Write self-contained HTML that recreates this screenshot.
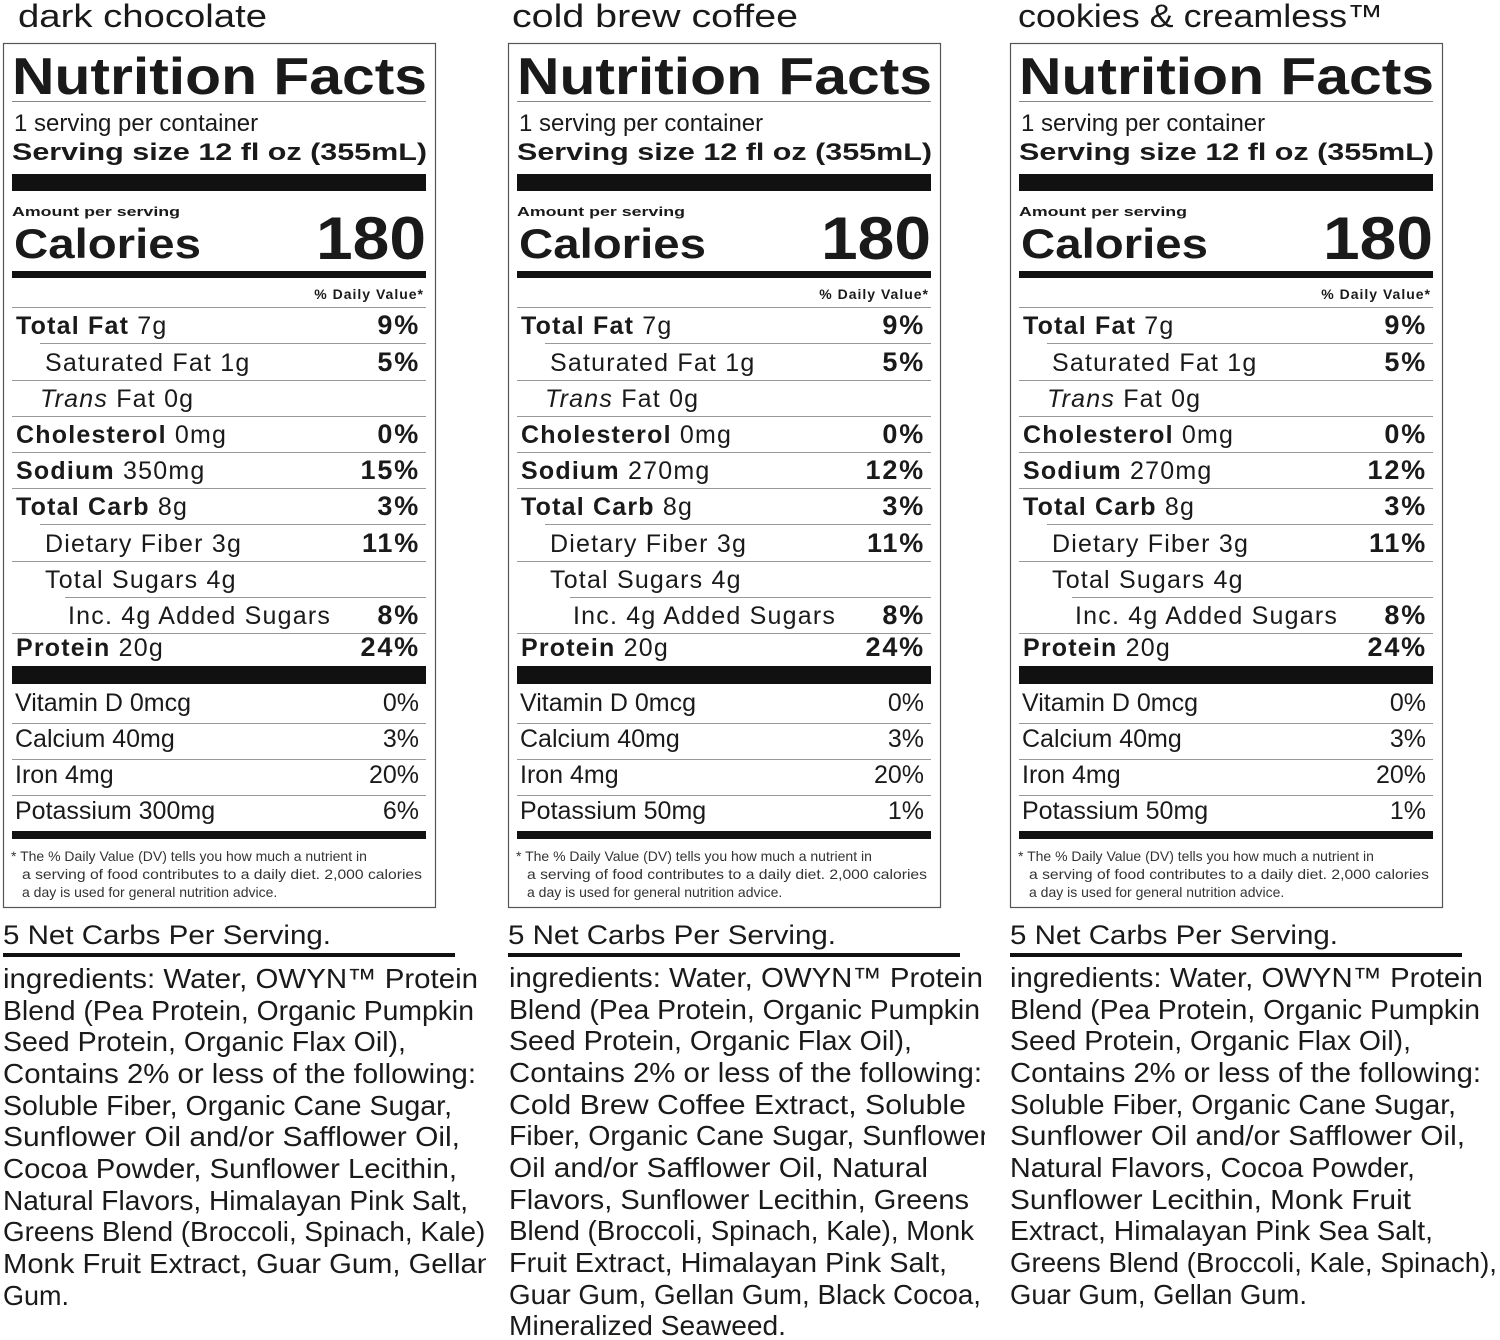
<!DOCTYPE html>
<html><head><meta charset="utf-8"><style>
html,body{margin:0;padding:0;background:#fff;}
svg{display:block;}
text{font-family:"Liberation Sans",Arial,sans-serif;fill:#1a1a1a;}
.b{font-weight:bold;}
.r{font-weight:normal;}
.row{font-size:25px;letter-spacing:1.2px;}
.pct{font-size:27px;font-weight:bold;letter-spacing:1.8px;}
.mn{font-size:25px;}
.ing{font-size:28px;}
.fn{font-size:14px;fill:#333;}
</style></head><body>
<svg width="1500" height="1340" viewBox="0 0 1500 1340" xmlns="http://www.w3.org/2000/svg">
<defs>
<clipPath id="c1"><rect x="0" y="960" width="486" height="380"/></clipPath>
<clipPath id="c2"><rect x="500" y="960" width="485" height="380"/></clipPath>
<g id="label">
 <rect x="3.5" y="43.5" width="432" height="864" fill="none" stroke="#555" stroke-width="1.2"/>
 <text x="12" y="94" class="b" font-size="52" textLength="415" lengthAdjust="spacingAndGlyphs">Nutrition Facts</text>
 <rect x="12" y="101" width="414" height="1" fill="#888"/>
 <text x="14" y="131" font-size="24">1 serving per container</text>
 <text x="12" y="160" class="b" font-size="24" textLength="415" lengthAdjust="spacingAndGlyphs">Serving size  12 fl oz (355mL)</text>
 <rect x="12" y="174" width="414" height="17" fill="#111"/>
 <text x="12" y="216" class="b" font-size="13" textLength="168" lengthAdjust="spacingAndGlyphs">Amount per serving</text>
 <text x="14" y="258" class="b" font-size="42" textLength="187" lengthAdjust="spacingAndGlyphs">Calories</text>
 <text x="316" y="259" class="b" font-size="60" textLength="110" lengthAdjust="spacingAndGlyphs">180</text>
 <rect x="12" y="271" width="414" height="7" fill="#111"/>
 <text x="424" y="299" class="b" font-size="14" text-anchor="end" letter-spacing="1">% Daily Value*</text>
 <rect x="12" y="307" width="414" height="1" fill="#999"/>
 <text x="16" y="334" class="row b">Total Fat <tspan class="r">7g</tspan></text>
 <text x="420" y="334" class="pct" text-anchor="end">9%</text>
 <rect x="40" y="343" width="386" height="1" fill="#999"/>
 <text x="45" y="371" class="row r">Saturated Fat 1g</text>
 <text x="420" y="371" class="pct" text-anchor="end">5%</text>
 <rect x="12" y="380" width="414" height="1" fill="#999"/>
 <text x="40" y="407" class="row r"><tspan font-style="italic">Trans</tspan> Fat 0g</text>
 <rect x="12" y="416" width="414" height="1" fill="#999"/>
 <text x="16" y="443" class="row b">Cholesterol <tspan class="r">0mg</tspan></text>
 <text x="420" y="443" class="pct" text-anchor="end">0%</text>
 <rect x="12" y="452" width="414" height="1" fill="#999"/>
 <rect x="12" y="488" width="414" height="1" fill="#999"/>
 <text x="16" y="515" class="row b">Total Carb <tspan class="r">8g</tspan></text>
 <text x="420" y="515" class="pct" text-anchor="end">3%</text>
 <rect x="40" y="524" width="386" height="1" fill="#999"/>
 <text x="45" y="552" class="row r">Dietary Fiber 3g</text>
 <text x="420" y="552" class="pct" text-anchor="end">11%</text>
 <rect x="12" y="561" width="414" height="1" fill="#999"/>
 <text x="45" y="588" class="row r">Total Sugars 4g</text>
 <rect x="65" y="597" width="361" height="1" fill="#999"/>
 <text x="68" y="624" class="row r">Inc. 4g Added Sugars</text>
 <text x="420" y="624" class="pct" text-anchor="end">8%</text>
 <rect x="12" y="633" width="414" height="1" fill="#999"/>
 <text x="16" y="656" class="row b">Protein <tspan class="r">20g</tspan></text>
 <text x="420" y="656" class="pct" text-anchor="end">24%</text>
 <rect x="12" y="666" width="414" height="18" fill="#111"/>
 <text x="15" y="711" class="mn">Vitamin D 0mcg</text>
 <text x="419" y="711" class="mn" text-anchor="end">0%</text>
 <rect x="12" y="723" width="414" height="1" fill="#999"/>
 <text x="15" y="747" class="mn">Calcium 40mg</text>
 <text x="419" y="747" class="mn" text-anchor="end">3%</text>
 <rect x="12" y="759" width="414" height="1" fill="#999"/>
 <text x="15" y="783" class="mn">Iron 4mg</text>
 <text x="419" y="783" class="mn" text-anchor="end">20%</text>
 <rect x="12" y="795" width="414" height="1" fill="#999"/>
 <rect x="12" y="831" width="414" height="8" fill="#111"/>
 <text x="11" y="861" class="fn">* The % Daily Value (DV) tells you how much a nutrient in</text>
 <text x="22" y="879" class="fn" textLength="400" lengthAdjust="spacingAndGlyphs">a serving of food contributes to a daily diet. 2,000 calories</text>
 <text x="22" y="897" class="fn">a day is used for general nutrition advice.</text>
 <text x="3" y="944" font-size="27" textLength="328" lengthAdjust="spacingAndGlyphs">5 Net Carbs Per Serving.</text>
 <rect x="3" y="953" width="452" height="4" fill="#111"/>
</g>
</defs>

<!-- Column 1 -->
<text x="18" y="27" font-size="32" textLength="249" lengthAdjust="spacingAndGlyphs">dark chocolate</text>
<use href="#label" x="0" y="0"/>
<text x="16" y="479" class="row b">Sodium <tspan class="r">350mg</tspan></text>
<text x="420" y="479" class="pct" text-anchor="end">15%</text>
<text x="15" y="819" class="mn">Potassium 300mg</text>
<text x="419" y="819" class="mn" text-anchor="end">6%</text>
<g clip-path="url(#c1)" class="ing">
<text x="3" y="988" class="ing" textLength="475" lengthAdjust="spacingAndGlyphs">ingredients: Water, OWYN™ Protein</text>
<text x="3" y="1020" class="ing" textLength="471" lengthAdjust="spacingAndGlyphs">Blend (Pea Protein, Organic Pumpkin</text>
<text x="3" y="1051" class="ing" textLength="403" lengthAdjust="spacingAndGlyphs">Seed Protein, Organic Flax Oil),</text>
<text x="3" y="1083" class="ing" textLength="473" lengthAdjust="spacingAndGlyphs">Contains 2% or less of the following:</text>
<text x="3" y="1115" class="ing" textLength="449" lengthAdjust="spacingAndGlyphs">Soluble Fiber, Organic Cane Sugar,</text>
<text x="3" y="1146" class="ing" textLength="457" lengthAdjust="spacingAndGlyphs">Sunflower Oil and/or Safflower Oil,</text>
<text x="3" y="1178" class="ing" textLength="454" lengthAdjust="spacingAndGlyphs">Cocoa Powder, Sunflower Lecithin,</text>
<text x="3" y="1210" class="ing" textLength="465" lengthAdjust="spacingAndGlyphs">Natural Flavors, Himalayan Pink Salt,</text>
<text x="3" y="1241" class="ing" textLength="490" lengthAdjust="spacingAndGlyphs">Greens Blend (Broccoli, Spinach, Kale),</text>
<text x="3" y="1273" class="ing" textLength="490" lengthAdjust="spacingAndGlyphs">Monk Fruit Extract, Guar Gum, Gellan</text>
<text x="3" y="1305" class="ing" textLength="66" lengthAdjust="spacingAndGlyphs">Gum.</text>
</g>

<!-- Column 2 -->
<text x="512" y="27" font-size="32" textLength="286" lengthAdjust="spacingAndGlyphs">cold brew coffee</text>
<use href="#label" x="505" y="0"/>
<g transform="translate(505,0)">
<text x="16" y="479" class="row b">Sodium <tspan class="r">270mg</tspan></text>
<text x="420" y="479" class="pct" text-anchor="end">12%</text>
<text x="15" y="819" class="mn">Potassium 50mg</text>
<text x="419" y="819" class="mn" text-anchor="end">1%</text>
</g>
<g clip-path="url(#c2)">
<text x="509" y="987" class="ing" textLength="474" lengthAdjust="spacingAndGlyphs">ingredients: Water, OWYN™ Protein</text>
<text x="509" y="1019" class="ing" textLength="471" lengthAdjust="spacingAndGlyphs">Blend (Pea Protein, Organic Pumpkin</text>
<text x="509" y="1050" class="ing" textLength="403" lengthAdjust="spacingAndGlyphs">Seed Protein, Organic Flax Oil),</text>
<text x="509" y="1082" class="ing" textLength="473" lengthAdjust="spacingAndGlyphs">Contains 2% or less of the following:</text>
<text x="509" y="1114" class="ing" textLength="457" lengthAdjust="spacingAndGlyphs">Cold Brew Coffee Extract, Soluble</text>
<text x="509" y="1145" class="ing" textLength="480" lengthAdjust="spacingAndGlyphs">Fiber, Organic Cane Sugar, Sunflower</text>
<text x="509" y="1177" class="ing" textLength="419" lengthAdjust="spacingAndGlyphs">Oil and/or Safflower Oil, Natural</text>
<text x="509" y="1209" class="ing" textLength="460" lengthAdjust="spacingAndGlyphs">Flavors, Sunflower Lecithin, Greens</text>
<text x="509" y="1240" class="ing" textLength="465" lengthAdjust="spacingAndGlyphs">Blend (Broccoli, Spinach, Kale), Monk</text>
<text x="509" y="1272" class="ing" textLength="438" lengthAdjust="spacingAndGlyphs">Fruit Extract, Himalayan Pink Salt,</text>
<text x="509" y="1304" class="ing" textLength="472" lengthAdjust="spacingAndGlyphs">Guar Gum, Gellan Gum, Black Cocoa,</text>
<text x="509" y="1335" class="ing" textLength="277" lengthAdjust="spacingAndGlyphs">Mineralized Seaweed.</text>
</g>

<!-- Column 3 -->
<text x="1018" y="27" font-size="32" textLength="365" lengthAdjust="spacingAndGlyphs">cookies &amp; creamless™</text>
<use href="#label" x="1007" y="0"/>
<g transform="translate(1007,0)">
<text x="16" y="479" class="row b">Sodium <tspan class="r">270mg</tspan></text>
<text x="420" y="479" class="pct" text-anchor="end">12%</text>
<text x="15" y="819" class="mn">Potassium 50mg</text>
<text x="419" y="819" class="mn" text-anchor="end">1%</text>
</g>
<text x="1010" y="987" class="ing" textLength="473" lengthAdjust="spacingAndGlyphs">ingredients: Water, OWYN™ Protein</text>
<text x="1010" y="1019" class="ing" textLength="470" lengthAdjust="spacingAndGlyphs">Blend (Pea Protein, Organic Pumpkin</text>
<text x="1010" y="1050" class="ing" textLength="401" lengthAdjust="spacingAndGlyphs">Seed Protein, Organic Flax Oil),</text>
<text x="1010" y="1082" class="ing" textLength="471" lengthAdjust="spacingAndGlyphs">Contains 2% or less of the following:</text>
<text x="1010" y="1114" class="ing" textLength="446" lengthAdjust="spacingAndGlyphs">Soluble Fiber, Organic Cane Sugar,</text>
<text x="1010" y="1145" class="ing" textLength="455" lengthAdjust="spacingAndGlyphs">Sunflower Oil and/or Safflower Oil,</text>
<text x="1010" y="1177" class="ing" textLength="405" lengthAdjust="spacingAndGlyphs">Natural Flavors, Cocoa Powder,</text>
<text x="1010" y="1209" class="ing" textLength="401" lengthAdjust="spacingAndGlyphs">Sunflower Lecithin, Monk Fruit</text>
<text x="1010" y="1240" class="ing" textLength="423" lengthAdjust="spacingAndGlyphs">Extract, Himalayan Pink Sea Salt,</text>
<text x="1010" y="1272" class="ing" textLength="487" lengthAdjust="spacingAndGlyphs">Greens Blend (Broccoli, Kale, Spinach),</text>
<text x="1010" y="1304" class="ing" textLength="297" lengthAdjust="spacingAndGlyphs">Guar Gum, Gellan Gum.</text>
</svg>
</body></html>
